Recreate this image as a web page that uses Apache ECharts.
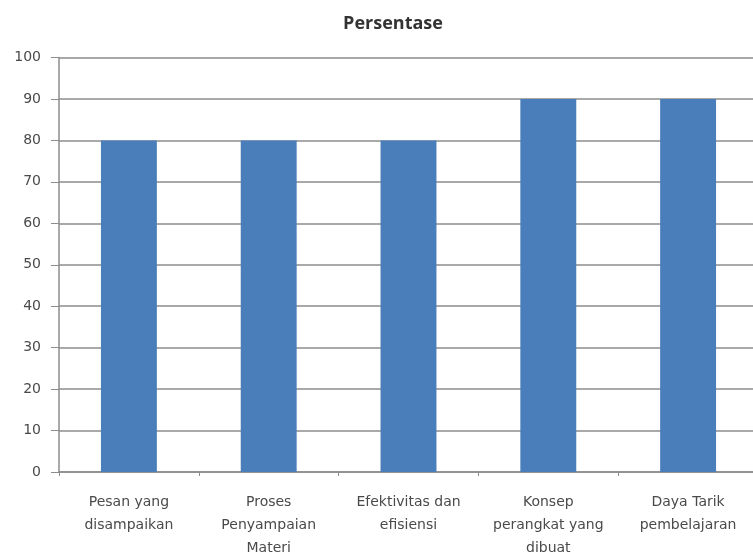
<!DOCTYPE html>
<html>
<head>
<meta charset="utf-8">
<script src="https://cdn.jsdelivr.net/npm/echarts@6/dist/echarts.min.js"></script>
<style>
  html, body { margin: 0; padding: 0; background: #fff; }
  #chart { width: 753px; height: 552px; }
</style>
</head>
<body>
<div id="chart"></div>
<script>
// Survey aspects and their percentage scores
const categories = [
  'Pesan yang\ndisampaikan',
  'Proses\nPenyampaian\nMateri',
  'Efektivitas dan\nefisiensi',
  'Konsep\nperangkat yang\ndibuat',
  'Daya Tarik\npembelajaran'
];
const persentase = [80, 80, 80, 90, 90];
const yTicks = { min: 0, max: 100, interval: 10 };

const textColor = '#4a4a4a';
const lineColor = '#8c8c8c';

const chart = echarts.init(document.getElementById('chart'));
chart.setOption({
  animation: false,
  backgroundColor: '#ffffff',
  title: {
    text: 'Persentase',
    left: 388,
    top: 10,
    textAlign: 'center',
    textStyle: {
      fontFamily: 'Open Sans',
      fontWeight: 'bold',
      fontSize: 18,
      color: '#333333'
    }
  },
  grid: {
    left: 59, top: 57.5, width: 699, height: 414.5,
    containLabel: false,
    outerBoundsMode: 'none'
  },
  xAxis: {
    type: 'category',
    data: categories,
    axisLine: { lineStyle: { color: lineColor, width: 1.5 } },
    axisTick: { show: true, length: 4, lineStyle: { color: lineColor } },
    axisLabel: {
      interval: 0,
      margin: 19,
      color: textColor,
      fontFamily: 'DejaVu Sans',
      fontSize: 14,
      lineHeight: 23
    }
  },
  yAxis: {
    type: 'value',
    min: yTicks.min,
    max: yTicks.max,
    interval: yTicks.interval,
    axisLine: { show: true, lineStyle: { color: lineColor, width: 1.5 } },
    axisTick: { show: true, length: 8, lineStyle: { color: lineColor } },
    splitLine: { show: true, lineStyle: { color: lineColor, width: 1.5 } },
    axisLabel: {
      margin: 18,
      color: textColor,
      fontFamily: 'DejaVu Sans',
      fontSize: 14
    }
  },
  series: [{
    type: 'bar',
    data: persentase,
    barWidth: '40%',
    itemStyle: { color: '#4a7ebb' }
  }]
});
</script>
</body>
</html>
